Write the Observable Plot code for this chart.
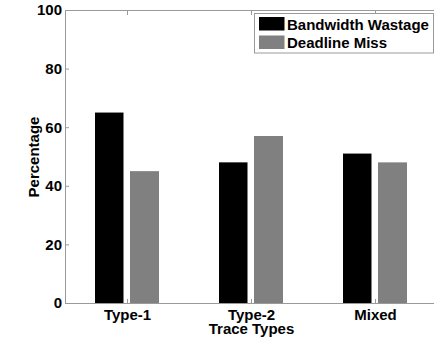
<!DOCTYPE html>
<html><head><meta charset="utf-8">
<script src="https://cdn.jsdelivr.net/npm/d3@7"></script>
<script src="https://cdn.jsdelivr.net/npm/@observablehq/plot@0.6"></script>
<style>
body{margin:0;background:#fff;}
#chart{position:relative;width:434px;height:341px;overflow:hidden;}
</style></head><body><div id="chart"></div>
<script>
const categories = ["Type-1", "Type-2", "Mixed"];
const series = ["Bandwidth Wastage", "Deadline Miss"];
const bandwidthWastage = [65, 48, 51];
const deadlineMiss = [45, 57, 48];
const yTicks = [0, 20, 40, 60, 80, 100];
const seriesColors = ["#000000", "#808080"];
const xTitle = "Trace Types";
const yTitle = "Percentage";

const rows = categories.flatMap((c, i) => [
  {category: c, series: series[0], value: bandwidthWastage[i]},
  {category: c, series: series[1], value: deadlineMiss[i]}
]);

const font = "'Liberation Sans', Arial, Helvetica, sans-serif";
const axisColor = "#9a9a9a";

const plot = Plot.plot({
  width: 434, height: 341,
  marginLeft: 65, marginRight: -3, marginTop: 10, marginBottom: 38,
  style: {fontFamily: font, fontSize: "15px", fontWeight: "bold", background: "#fff", color: "#000"},
  x: {domain: categories, paddingInner: 60 / 124, paddingOuter: 30 / 124, align: 0.5},
  y: {domain: [0, 100]},
  color: {domain: series, range: seriesColors},
  marks: [
    Plot.barY(rows.filter(d => d.series === series[0]), {x: "category", y: "value", fill: "series", insetRight: 35.5}),
    Plot.barY(rows.filter(d => d.series === series[1]), {x: "category", y: "value", fill: "series", insetLeft: 35}),
    Plot.frame({stroke: axisColor}),
    Plot.axisX({anchor: "bottom", tickSize: -4, tickFormat: () => "", stroke: axisColor, label: null}),
    Plot.axisX({anchor: "top", tickSize: -4, tickFormat: () => "", stroke: axisColor, label: null}),
    Plot.axisX({anchor: "bottom", tickSize: 0, tickPadding: 6, label: null, fill: "#000", fontWeight: "bold"}),
    Plot.axisY({anchor: "left", ticks: yTicks, tickSize: -4, tickFormat: () => "", stroke: axisColor, label: null}),
    Plot.axisY({anchor: "right", ticks: yTicks, tickSize: -4, tickFormat: () => "", stroke: axisColor, label: null}),
    Plot.axisY({anchor: "left", ticks: yTicks, tickSize: 0, tickPadding: 3.5, label: null, fill: "#000", fontWeight: "bold"}),
    Plot.text([yTitle], {frameAnchor: "left", text: d => d, rotate: -90, dx: -31.5, lineAnchor: "middle", textAnchor: "middle", fill: "#000"}),
    Plot.text([xTitle], {frameAnchor: "bottom", text: d => d, dy: 19.8, lineAnchor: "top", textAnchor: "middle", fill: "#000"})
  ]
});
document.getElementById("chart").appendChild(plot);

// legend inside the plot area (top right)
const svg = d3.select(plot);
const lg = svg.append("g").attr("font-family", font).attr("font-size", 15).attr("font-weight", "bold").attr("text-anchor", "start");
lg.append("rect").attr("x", 254.5).attr("y", 13.5).attr("width", 179).attr("height", 39.5)
  .attr("fill", "#fff").attr("stroke", axisColor);
series.forEach((s, i) => {
  lg.append("rect").attr("x", 259).attr("y", 17 + i * 18.5).attr("width", 25.5).attr("height", 13.5).attr("fill", seriesColors[i]);
  lg.append("text").attr("x", 287).attr("y", 29.7 + i * 18.4).attr("fill", "#000").attr("text-anchor", "start").text(s);
});
</script>
</body></html>
